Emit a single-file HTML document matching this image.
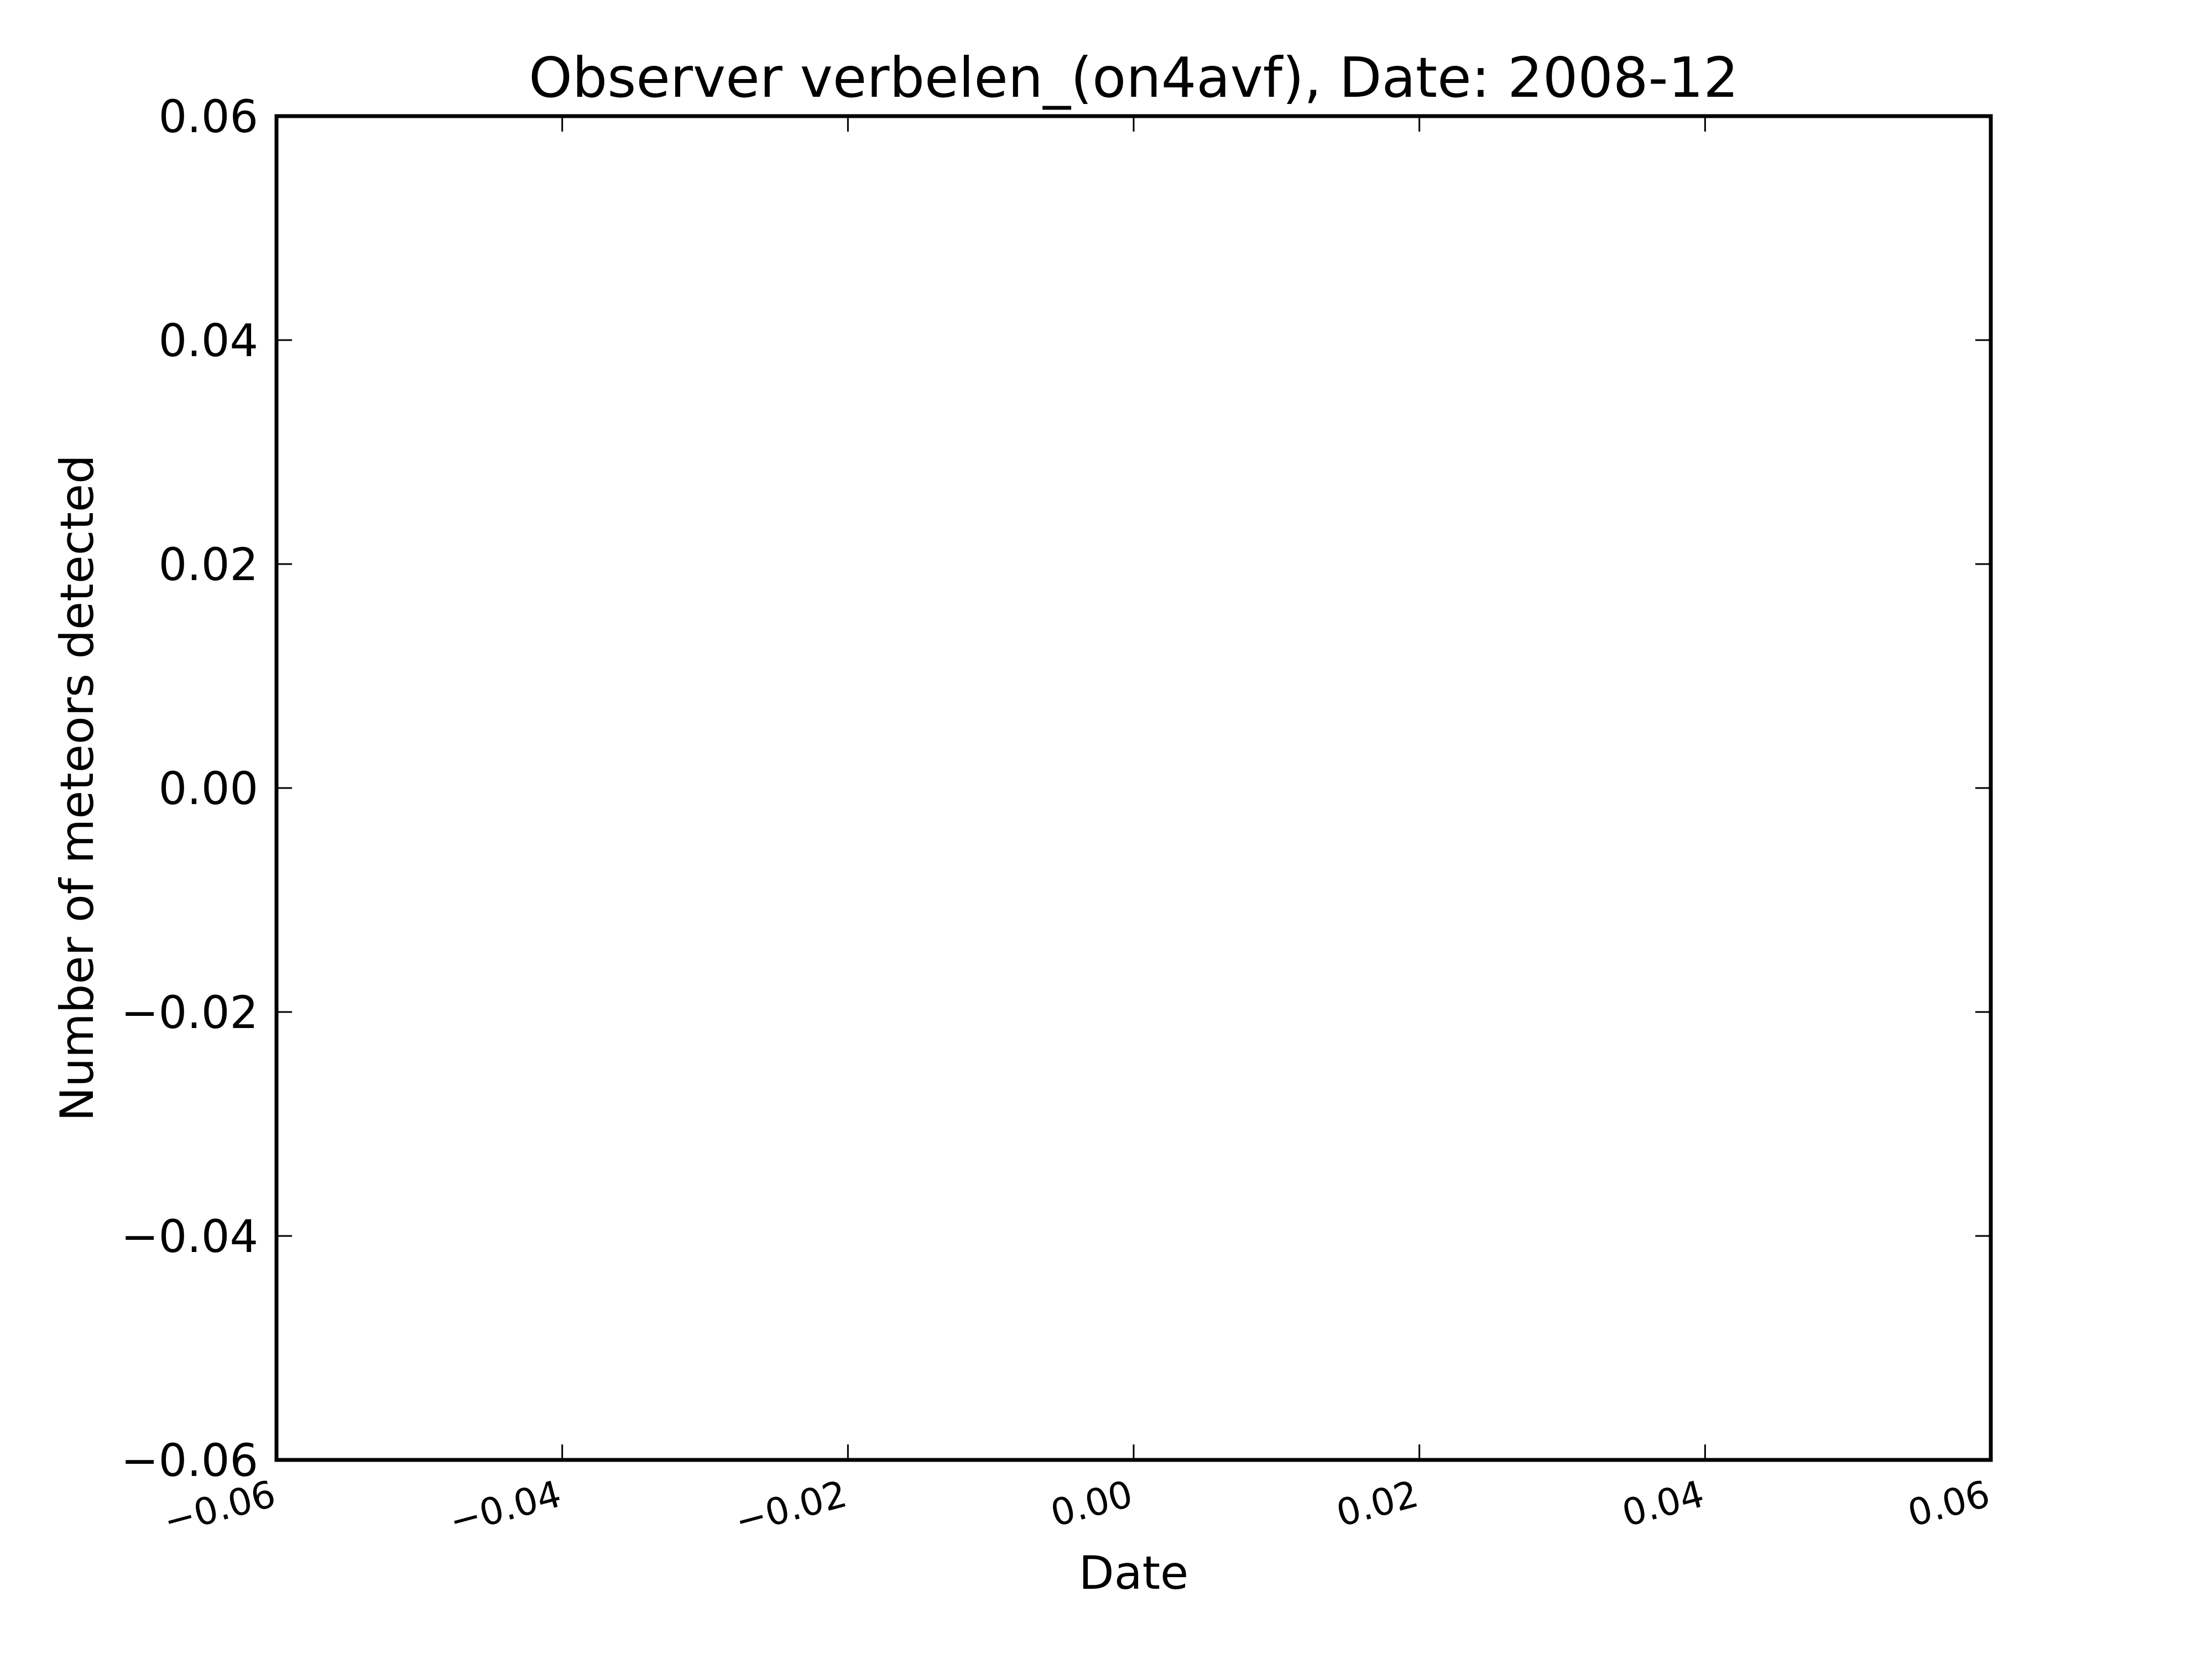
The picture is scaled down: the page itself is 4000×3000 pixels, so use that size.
<!DOCTYPE html>
<html>
<head>
<meta charset="utf-8">
<style>
  html, body { margin: 0; padding: 0; background: #fff; }
  svg { display: block; }
  text { font-family: "DejaVu Sans", "Liberation Sans", sans-serif; fill: #000; }
</style>
</head>
<body>
<svg id="chart" xmlns="http://www.w3.org/2000/svg" width="4000" height="3000" viewBox="0 0 4000 3000">
  <rect x="0" y="0" width="4000" height="3000" fill="#fff"/>
  <text x="2050" y="175" font-size="100" text-anchor="middle">Observer verbelen_(on4avf), Date: 2008-12</text>
  <g id="ticks"></g>
  <rect x="500" y="210" width="3100" height="2430" fill="none" stroke="#000" stroke-width="7"/>
  <text x="2050" y="2873" font-size="83" text-anchor="middle">Date</text>
  <text x="0" y="0" font-size="83" text-anchor="middle" transform="translate(168,1425) rotate(-90)">Number of meteors detected</text>
</svg>
<script>
const xTickValues = [-0.06, -0.04, -0.02, 0.00, 0.02, 0.04, 0.06];
const xTickLabels = ["\u22120.06", "\u22120.04", "\u22120.02", "0.00", "0.02", "0.04", "0.06"];
const yTickValues = [-0.06, -0.04, -0.02, 0.00, 0.02, 0.04, 0.06];
const yTickLabels = ["\u22120.06", "\u22120.04", "\u22120.02", "0.00", "0.02", "0.04", "0.06"];

const L = 500, R = 3600, T = 210, B = 2640;
const xMin = -0.06, xMax = 0.06, yMin = -0.06, yMax = 0.06;
function xScale(v) { return L + (v - xMin) / (xMax - xMin) * (R - L); }
function yScale(v) { return B - (v - yMin) / (yMax - yMin) * (B - T); }

const NS = "http://www.w3.org/2000/svg";
const g = document.getElementById("ticks");
const TL = 28;

function line(x1, y1, x2, y2) {
  const l = document.createElementNS(NS, "line");
  l.setAttribute("x1", x1); l.setAttribute("y1", y1);
  l.setAttribute("x2", x2); l.setAttribute("y2", y2);
  l.setAttribute("stroke", "#000"); l.setAttribute("stroke-width", "3");
  return l;
}

xTickValues.forEach((v, i) => {
  const x = xScale(v);
  const t1 = line(x, B, x, B - TL);
  
  
  g.appendChild(t1);
  const t2 = line(x, T, x, T + TL);
  
  
  g.appendChild(t2);
  const tx = document.createElementNS(NS, "text");
  
  
  tx.setAttribute("font-size", "67");
  tx.setAttribute("text-anchor", "end");
  tx.setAttribute("transform", "translate(" + (x + 2) + "," + 2722 + ") rotate(-15)");
  tx.textContent = xTickLabels[i];
  g.appendChild(tx);
});

yTickValues.forEach((v, i) => {
  const y = yScale(v);
  const t1 = line(L, y, L + TL, y);
  
  
  g.appendChild(t1);
  const t2 = line(R, y, R - TL, y);
  
  
  g.appendChild(t2);
  const ty = document.createElementNS(NS, "text");
  
  
  ty.setAttribute("font-size", "81");
  ty.setAttribute("text-anchor", "end");
  ty.setAttribute("x", 467);
  ty.setAttribute("y", y + 29);
  ty.textContent = yTickLabels[i];
  g.appendChild(ty);
});
</script>
</body>
</html>
